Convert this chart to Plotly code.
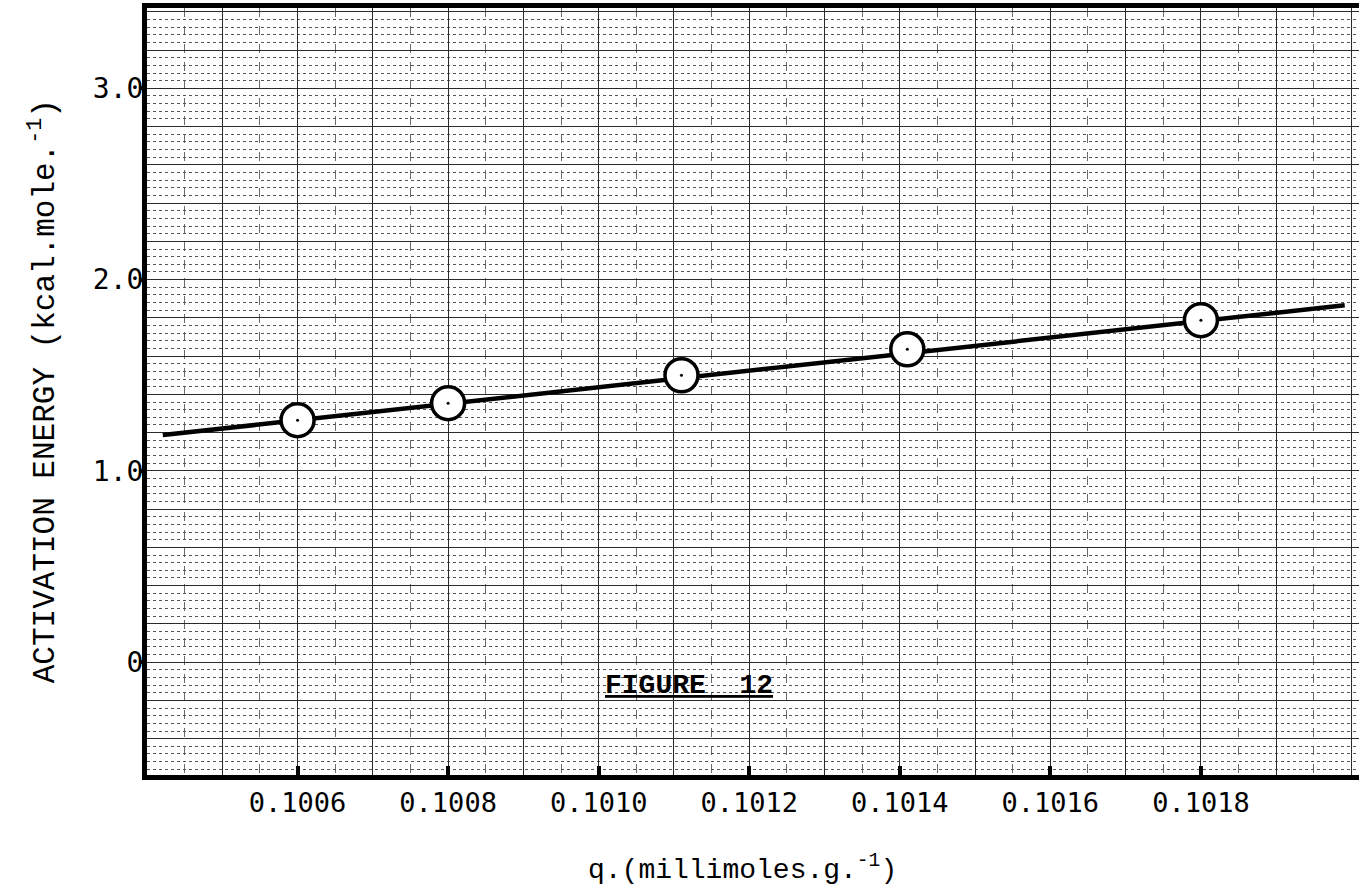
import plotly.graph_objects as go

# Data
q_points = [0.1006, 0.1008, 0.10111, 0.10141, 0.1018]
energy_points = [1.265, 1.354, 1.500, 1.636, 1.788]

# Fitted straight line end points
q_line = [0.100421, 0.101991]
energy_line = [1.187, 1.866]

# Tick labels
x_tick_vals = [0.1006, 0.1008, 0.1010, 0.1012, 0.1014, 0.1016, 0.1018]
x_tick_text = ["0.1006", "0.1008", "0.1010", "0.1012", "0.1014", "0.1016", "0.1018"]
y_tick_vals = [0, 1.0, 2.0, 3.0]
y_tick_text = ["0", "1.0", "2.0", "3.0"]

X_RANGE = [0.1004, 0.10201]
Y_RANGE = [-0.59, 3.42]

SERIF_MONO = "Liberation Mono"
SANS_MONO = "DejaVu Sans Mono"

fig = go.Figure()

# Base subplot: graph-paper grid
fig.add_trace(go.Scatter(x=[X_RANGE[0]], y=[Y_RANGE[0]], mode="markers",
                         marker=dict(opacity=0), hoverinfo="skip",
                         showlegend=False, xaxis="x", yaxis="y"))
# Tick-mark overlay
fig.add_trace(go.Scatter(x=[X_RANGE[0]], y=[Y_RANGE[0]], mode="markers",
                         marker=dict(opacity=0), hoverinfo="skip",
                         showlegend=False, xaxis="x2", yaxis="y3"))

# Overlay subplot: data
fig.add_trace(go.Scatter(x=q_line, y=energy_line, mode="lines",
                         line=dict(color="black", width=4.5),
                         showlegend=False, xaxis="x2", yaxis="y2"))
fig.add_trace(go.Scatter(x=q_points, y=energy_points, mode="markers",
                         marker=dict(symbol="circle", size=33, color="white",
                                     line=dict(color="black", width=3.5)),
                         showlegend=False, xaxis="x2", yaxis="y2"))
fig.add_trace(go.Scatter(x=q_points, y=energy_points, mode="markers",
                         marker=dict(symbol="circle", size=3, color="black"),
                         showlegend=False, xaxis="x2", yaxis="y2"))

fig.update_layout(
    width=1359, height=894,
    margin=dict(l=147, r=0, t=8, b=119),
    paper_bgcolor="white", plot_bgcolor="white",
    showlegend=False,
    xaxis=dict(range=X_RANGE, tick0=0.1004, dtick=0.0001,
               showticklabels=False, ticks="", zeroline=False,
               showgrid=True, gridcolor="#2a2a2a", gridwidth=1.4,
               minor=dict(dtick=0.00005, showgrid=True, gridcolor="#6a6a6a",
                          gridwidth=1, griddash="dash", ticks=""),
               showline=False),
    yaxis=dict(range=Y_RANGE, tick0=0, dtick=0.2,
               showticklabels=False, ticks="", zeroline=False,
               showgrid=True, gridcolor="#2a2a2a", gridwidth=1.4,
               minor=dict(dtick=0.04, showgrid=True, gridcolor="#555555",
                          gridwidth=1, griddash="dot", ticks=""),
               showline=False),
    xaxis2=dict(range=X_RANGE, overlaying="x", anchor="y2", side="bottom",
                tickmode="array", tickvals=x_tick_vals, ticktext=x_tick_text,
                ticks="inside", ticklen=9, tickwidth=4, tickcolor="black",
                tickfont=dict(family=SANS_MONO, size=27, color="black"),
                showgrid=False, zeroline=False,
                showline=True, linewidth=5, linecolor="black", mirror=True),
    yaxis2=dict(range=Y_RANGE, overlaying="y", anchor="x2", side="left",
                tickmode="array", tickvals=y_tick_vals, ticktext=y_tick_text,
                ticks="", ticklabelstandoff=-7,
                tickfont=dict(family=SANS_MONO, size=28, color="black"),
                showgrid=False, zeroline=False,
                showline=True, linewidth=5, linecolor="black", mirror=False),
    yaxis3=dict(range=Y_RANGE, overlaying="y", anchor="x2", side="left",
                tickmode="array", tickvals=y_tick_vals, showticklabels=False,
                ticks="outside", ticklen=7, tickwidth=4, tickcolor="black",
                showgrid=False, zeroline=False, showline=False),
)

fig.add_annotation(
    text="ACTIVATION ENERGY (kcal.mole.<sup>-1</sup>)",
    xref="paper", yref="paper", x=-0.086, y=0.5,
    xanchor="center", yanchor="middle", textangle=-90, showarrow=False,
    font=dict(family=SERIF_MONO, size=31, color="black"))

fig.add_annotation(
    text="q.(millimoles.g.<sup>-1</sup>)",
    xref="paper", yref="paper", x=(742 - 147) / 1212, y=-(868 - 775) / 767,
    xanchor="center", yanchor="middle", showarrow=False,
    font=dict(family=SERIF_MONO, size=28, color="black"))

fig.add_annotation(
    text="<b><u>FIGURE  12</u></b>",
    xref="x2", yref="y2", x=0.10112, y=-0.12,
    xanchor="center", yanchor="middle", showarrow=False,
    font=dict(family=SERIF_MONO, size=28, color="black"))

fig.write_html("out.html")
